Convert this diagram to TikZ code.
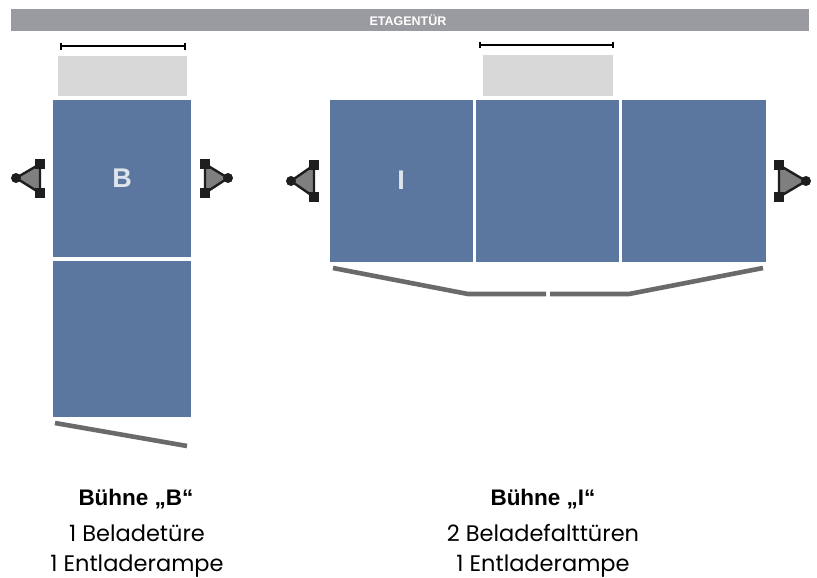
\documentclass[tikz,border=0pt]{standalone}
\usepackage{fontspec}
\setmainfont{Liberation Sans}
\newfontfamily\squarefont{Poppins}
\definecolor{plat}{HTML}{5B779F}
\definecolor{barc}{HTML}{9A9AA1}
\definecolor{doorc}{HTML}{D8D8D8}
\definecolor{rampc}{HTML}{6A6A6A}
\definecolor{postc}{HTML}{7F7F7F}
\definecolor{markc}{HTML}{1E1E1E}
\tikzset{
  x=1pt,y=-1pt,
  platform/.style={fill=plat,draw=none},
  door/.style={fill=doorc,draw=none},
  ramp/.style={draw=rampc,line width=4.6pt,line join=round},
  measure/.style={draw=black,line width=2.4pt},
  tickmark/.style={draw=black,line width=2.4pt},
  captext/.style={font=\fontsize{22.5}{26}\selectfont\bfseries,anchor=center,inner sep=0pt},
  desctext/.style={font=\squarefont\fontsize{22.5}{26}\selectfont,anchor=center,inner sep=0pt},
}
\newcommand{\postmark}[6]{%
  \fill[postc] (#1,#2)--(#3,#4)--(#5,#6)--cycle;
  \draw[markc,line width=2.4pt,line join=round] (#1,#2)--(#3,#4)--(#5,#6)--cycle;
  \fill[markc] (#1,#2) circle (5pt);
  \fill[markc] (#3-5,#4-5) rectangle (#3+5,#4+5);
  \fill[markc] (#5-5,#6-5) rectangle (#5+5,#6+5);
}
\begin{document}
\begin{tikzpicture}
\useasboundingbox (0,0) rectangle (817,578);
\fill[white] (0,0) rectangle (817,578);
\fill[barc] (11,9) rectangle (809,31);
\node[font=\fontsize{12.5}{15}\selectfont\bfseries,text=white,inner sep=0pt] (title) at (408,20.5) {ETAGENTÜR};

% Buehne B
\draw[measure] (61,46) -- (185,46);
\draw[tickmark] (61,43) -- (61,50);
\draw[tickmark] (185,43) -- (185,50);
\fill[door] (58,56) rectangle (187,96);
\fill[platform] (53,100) rectangle (191,257);
\fill[platform] (53,261) rectangle (191,417);
\draw[ramp] (55,423) -- (187,446);
\node[font=\fontsize{27}{30}\selectfont\bfseries,text=white!80!plat,inner sep=0pt] (lb) at (122,178) {B};
\postmark{16}{178}{40}{164}{40}{193}
\postmark{228}{178}{205}{164}{205}{193}

% Buehne I
\draw[measure] (480,45) -- (613,45);
\draw[tickmark] (480,42) -- (480,48);
\draw[tickmark] (613,42) -- (613,48);
\fill[door] (483,55) rectangle (613,96);
\fill[platform] (330,100) rectangle (473,262);
\fill[platform] (476,100) rectangle (619,262);
\fill[platform] (622,100) rectangle (766,262);
\draw[ramp] (333,268) -- (468,294) -- (546,294);
\draw[ramp] (550,294) -- (629,294) -- (763,268);
\node[font=\fontsize{27}{30}\selectfont\bfseries,text=white!80!plat,inner sep=0pt] (li) at (401,180) {I};
\postmark{291}{181}{314}{165}{314}{197}
\postmark{806}{181}{779}{165}{779}{197}

% Texts
\node[captext] (c1) at (136,499) {Bühne „B“};
\node[desctext] (d1a) at (137,533) {1 Beladetüre};
\node[desctext] (d1b) at (137,566) {1 Entladerampe};
\node[captext] (c2) at (543,499) {Bühne „I“};
\node[desctext] (d2a) at (543,533) {2 Beladefalttüren};
\node[desctext] (d2b) at (543,566) {1 Entladerampe};
\end{tikzpicture}
\end{document}
